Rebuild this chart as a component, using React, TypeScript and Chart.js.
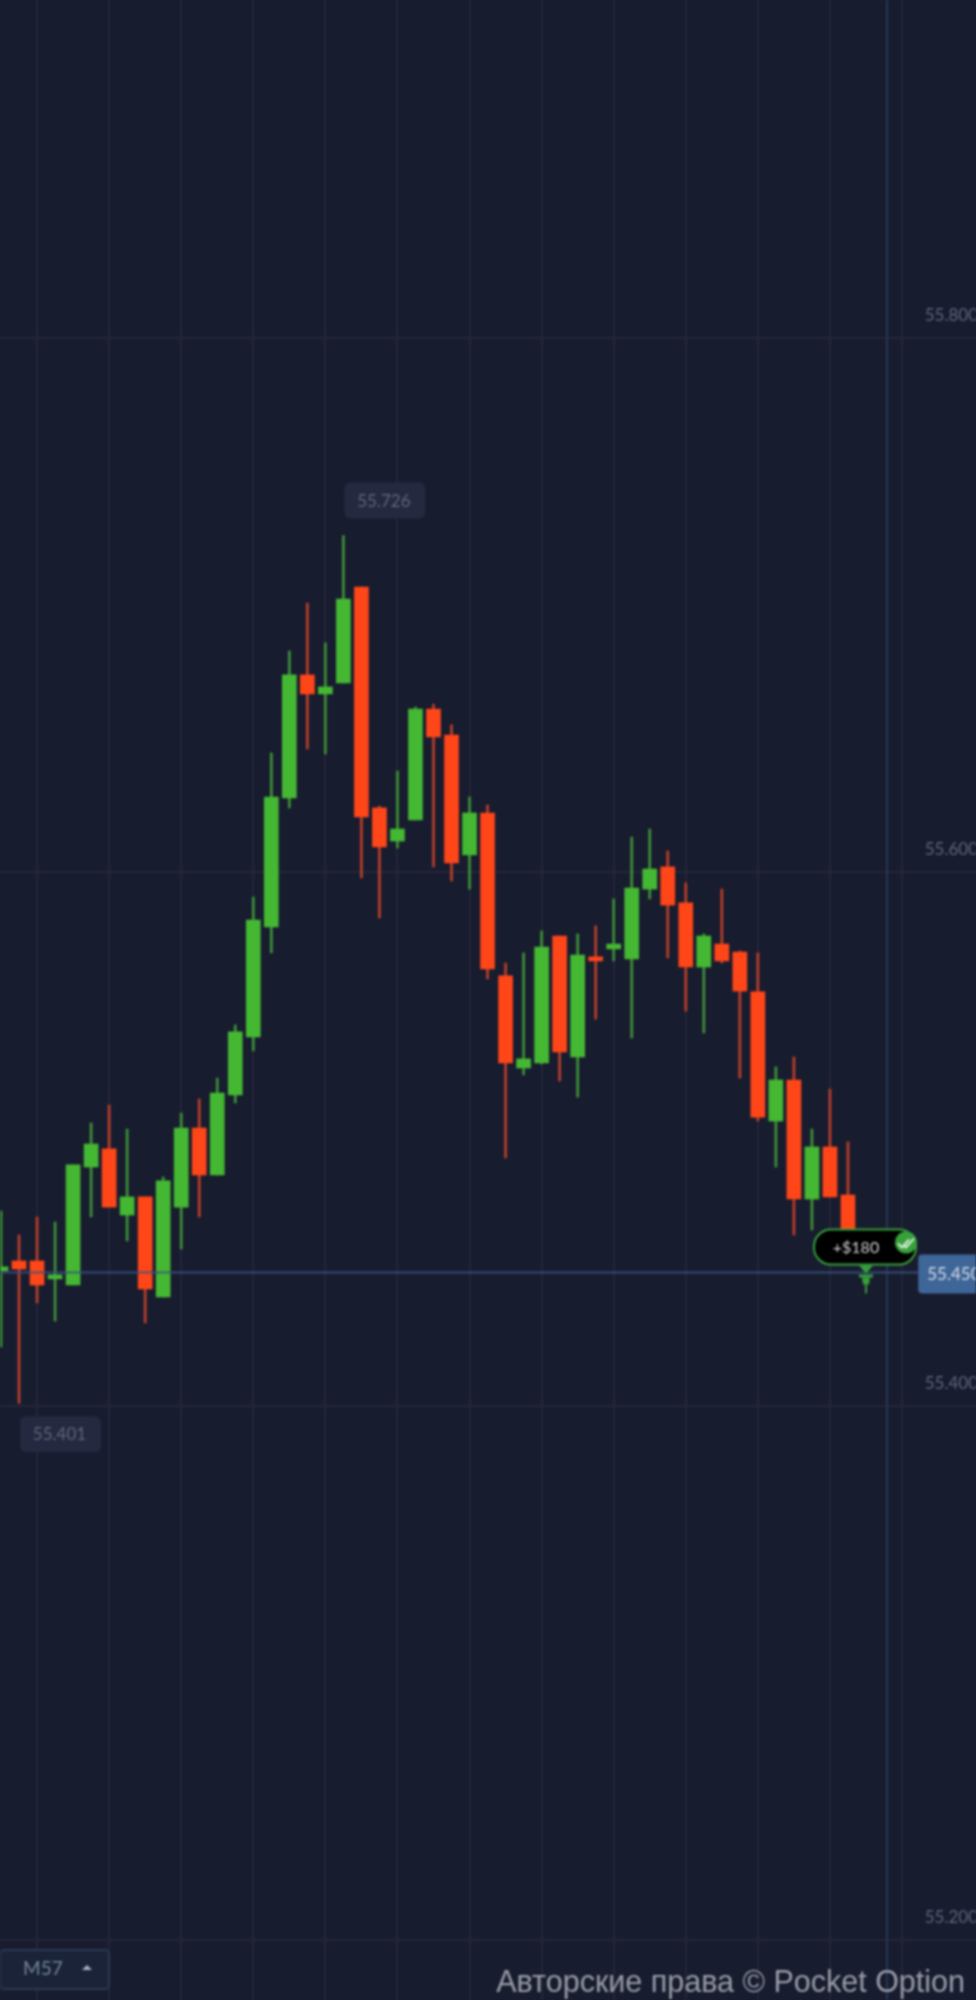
import { useEffect, useRef } from "react";
import { Chart, registerables } from "chart.js";

Chart.register(...registerables);

// Candle values
const opens = [55.4506,55.4543,55.4543,55.4476,55.4453,55.4895,55.4963,55.4715,55.4783,55.4408,55.4745,55.5041,55.4865,55.5165,55.5382,55.5794,55.6277,55.6738,55.6667,55.6708,55.7067,55.624,55.6116,55.6195,55.661,55.6513,55.6064,55.6221,55.5611,55.5266,55.5285,55.576,55.5307,55.5682,55.5712,55.5674,55.5936,55.6019,55.5884,55.5644,55.573,55.57,55.5551,55.5067,55.5221,55.4775,55.497,55.479];
const closes = [55.4521,55.4513,55.4453,55.4491,55.4903,55.4981,55.4745,55.4783,55.4438,55.4843,55.5041,55.4865,55.5172,55.5401,55.582,55.6281,55.6738,55.6667,55.6693,55.7022,55.6206,55.6094,55.6161,55.661,55.6506,55.6034,55.6221,55.5637,55.5285,55.53,55.5719,55.5326,55.5689,55.5667,55.573,55.594,55.6011,55.5876,55.5644,55.576,55.5667,55.5554,55.5082,55.5221,55.4775,55.497,55.4783,55.4603];
const highs = [55.473,55.464,55.4708,55.4689,55.4903,55.506,55.5127,55.5037,55.4783,55.4858,55.5097,55.515,55.5228,55.5427,55.5906,55.6446,55.6828,55.7007,55.6858,55.726,55.7067,55.6247,55.6378,55.6618,55.6629,55.6551,55.6281,55.6251,55.5659,55.5697,55.5779,55.576,55.5768,55.5798,55.5899,55.6131,55.6161,55.6079,55.5959,55.5768,55.5936,55.5704,55.5697,55.527,55.5307,55.5037,55.5187,55.4989];
const lows = [55.4221,55.401,55.4386,55.4318,55.4453,55.4708,55.4745,55.4618,55.4311,55.4408,55.4588,55.4708,55.4865,55.5135,55.533,55.5697,55.624,55.6461,55.6442,55.6708,55.5978,55.5828,55.609,55.6195,55.6019,55.5966,55.5936,55.5599,55.4929,55.524,55.5281,55.5217,55.5157,55.5449,55.5667,55.5378,55.5899,55.5678,55.5479,55.5397,55.5659,55.5228,55.5067,55.4895,55.464,55.4659,55.4783,55.4603];

const priceTicks = [55.2, 55.4, 55.6, 55.8];
const timeTicks = [2, 6, 10, 14, 18, 22, 26, 30, 34, 38, 42, 46, 50];
const currentPrice = 55.45;
const tradeIndex = 48;
const expiryIndex = 49.17;
const priceTagEndIndex = 50.9;
const highLabel = "55.726";
const highIndex = 19;
const highValue = 55.726;
const lowLabel = "55.401";
const lowIndex = 1;
const lowValue = 55.401;
const tradeLabel = "+$180";
const timeframeLabel = "M57";
const copyrightLabel = "Авторские права © Pocket Option";

const GREEN = "#45b833";
const RED = "#ff4619";
const WICK_GREEN = "#3f9438";
const WICK_RED = "#bd402b";
const BG = "#181c2f";
const GRID = "#232738";

const isUp = (i: number) => closes[i] >= opens[i];

function roundRect(ctx: CanvasRenderingContext2D, x: number, y: number, w: number, h: number, r: number) {
  ctx.beginPath();
  ctx.roundRect(x, y, w, h, r);
}

const overlay = {
  id: "overlay",
  afterDraw(chart: any) {
    const { ctx, scales } = chart;
    const X = scales.x;
    const Y = scales.y;
    ctx.save();

    // extremum labels
    const ext = (label: string, idx: number, val: number, dy: number) => {
      const x = X.getPixelForValue(idx) + 1;
      const y = Y.getPixelForValue(val) + dy;
      ctx.fillStyle = "#252940";
      roundRect(ctx, x, y, 81, 36, 6);
      ctx.fill();
      ctx.fillStyle = "#5e657c";
      ctx.font = "17px Lato";
      ctx.textAlign = "center";
      ctx.textBaseline = "middle";
      ctx.fillText(label, x + 39.5, y + 18.5);
    };
    ext(highLabel, highIndex, highValue, -53);
    ext(lowLabel, lowIndex, lowValue, 13);

    // current price tag
    const py = Y.getPixelForValue(currentPrice);
    const tagX = X.getPixelForValue(priceTagEndIndex);
    ctx.fillStyle = "#3f6698";
    roundRect(ctx, tagX, py - 18, 70, 39, 4);
    ctx.fill();
    ctx.fillStyle = "#d5dde8";
    ctx.font = "17px Lato";
    ctx.textAlign = "left";
    ctx.textBaseline = "middle";
    ctx.fillText(currentPrice.toFixed(3), tagX + 9, py + 2);

    // trade badge
    const tx = X.getPixelForValue(tradeIndex);
    const bx = tx - 52;
    const by = py - 43;
    ctx.fillStyle = "#37a03c";
    ctx.beginPath();
    ctx.moveTo(tx - 7, py - 7);
    ctx.lineTo(tx + 7, py - 7);
    ctx.lineTo(tx, py + 1);
    ctx.closePath();
    ctx.fill();
    ctx.fillRect(tx - 7, py + 2, 14, 3);
    ctx.beginPath();
    ctx.moveTo(tx - 4, py + 5);
    ctx.lineTo(tx + 4, py + 5);
    ctx.lineTo(tx + 3, py + 12);
    ctx.lineTo(tx - 3, py + 12);
    ctx.closePath();
    ctx.fill();
    ctx.fillRect(tx - 1, py + 12, 2, 9);

    ctx.fillStyle = "#000000";
    ctx.strokeStyle = "#37a03c";
    ctx.lineWidth = 2;
    roundRect(ctx, bx, by, 102, 35, 17);
    ctx.fill();
    ctx.stroke();
    ctx.fillStyle = "#cfcfcf";
    ctx.font = "16px Lato";
    ctx.textAlign = "center";
    ctx.fillText(tradeLabel, tx - 10, by + 18);
    const cx = bx + 92;
    const cy = by + 13;
    ctx.fillStyle = "#37a03c";
    ctx.beginPath();
    ctx.arc(cx, cy, 11, 0, Math.PI * 2);
    ctx.fill();
    ctx.strokeStyle = "#d8efd8";
    ctx.lineWidth = 2;
    ctx.beginPath();
    ctx.moveTo(cx - 8, cy + 1);
    ctx.lineTo(cx - 4, cy + 5);
    ctx.lineTo(cx + 3, cy - 3);
    ctx.moveTo(cx - 2, cy + 3);
    ctx.lineTo(cx, cy + 5);
    ctx.lineTo(cx + 8, cy - 4);
    ctx.stroke();

    // timeframe control
    const H = chart.height;
    const W = chart.width;
    ctx.fillStyle = "#1a2338";
    ctx.strokeStyle = "#2a3b55";
    ctx.lineWidth = 2;
    roundRect(ctx, 0, H - 50, 109, 39, 4);
    ctx.fill();
    ctx.stroke();
    ctx.fillStyle = "#74859a";
    ctx.font = "19px Lato";
    ctx.textAlign = "left";
    ctx.fillText(timeframeLabel, 23, H - 31);
    ctx.fillStyle = "#a8b2c0";
    ctx.beginPath();
    ctx.moveTo(82, H - 30);
    ctx.lineTo(92, H - 30);
    ctx.lineTo(87, H - 35);
    ctx.closePath();
    ctx.fill();

    // copyright
    ctx.fillStyle = "#9a9ea8";
    ctx.font = "30.5px 'Liberation Sans'";
    ctx.textAlign = "right";
    ctx.textBaseline = "middle";
    ctx.fillText(copyrightLabel, W - 11, H - 16);
    ctx.restore();
  },
};

export default function App() {
  const ref = useRef<HTMLCanvasElement>(null);
  useEffect(() => {
    const chart = new Chart(ref.current as HTMLCanvasElement, {
      type: "bar",
      data: {
        datasets: [
          {
            type: "line",
            data: [{ x: -0.06, y: currentPrice }, { x: priceTagEndIndex, y: currentPrice }],
            borderColor: "rgba(58,84,132,0.85)",
            borderWidth: 2,
            pointRadius: 0,
            order: 0,
          },
          {
            type: "bar",
            data: opens.map((o, i) => ({ x: i, y: [o, closes[i]] })),
            backgroundColor: opens.map((_, i) => (isUp(i) ? GREEN : RED)),
            barThickness: 14,
            grouped: false,
            order: 1,
          },
          {
            type: "bar",
            data: opens.map((_, i) => ({ x: i, y: [lows[i], highs[i]] })),
            backgroundColor: opens.map((_, i) => (isUp(i) ? WICK_GREEN : WICK_RED)),
            barThickness: 2,
            grouped: false,
            order: 2,
          },
          {
            type: "line",
            data: [{ x: expiryIndex, y: priceTicks[0] - 1 }, { x: expiryIndex, y: priceTicks[3] + 1 }],
            borderColor: "#283852",
            borderWidth: 2,
            pointRadius: 0,
            order: 3,
          },
        ],
      } as any,
      options: {
        animation: false,
        responsive: false,
        devicePixelRatio: 1,
        layout: { padding: 0 },
        plugins: { legend: { display: false }, tooltip: { enabled: false } },
        scales: {
          x: {
            type: "linear",
            offset: false,
            min: -0.0555,
            max: 54.105,
            afterBuildTicks: (s: any) => { s.ticks = timeTicks.map((value) => ({ value })); },
            grid: { color: GRID, lineWidth: 2, drawTicks: false, offset: false },
            border: { display: false },
            ticks: { display: false, autoSkip: false },
          },
          y: {
            position: "right",
            min: 55.1775,
            max: 55.9266,
            afterBuildTicks: (s: any) => { s.ticks = priceTicks.map((value) => ({ value })); },
            afterFit: (s: any) => { s.width = 0; s.paddingTop = 0; s.paddingBottom = 0; },
            grid: { color: GRID, lineWidth: 2, drawTicks: false },
            border: { display: false },
            ticks: {
              mirror: true,
              padding: 2,
              labelOffset: -22,
              autoSkip: false,
              color: "#5e657c",
              font: { family: "Lato", size: 17 },
              callback: (v: any) => Number(v).toFixed(3),
            },
          },
        },
      } as any,
      plugins: [overlay],
    });
    return () => chart.destroy();
  }, []);
  return (
    <div style={{ position: "absolute", left: 0, top: 0, width: 976, height: 2000, background: BG, overflow: "hidden" }}>
      <canvas ref={ref} width={976} height={2000} style={{ display: "block", filter: "blur(0.8px)" }} />
    </div>
  );
}
